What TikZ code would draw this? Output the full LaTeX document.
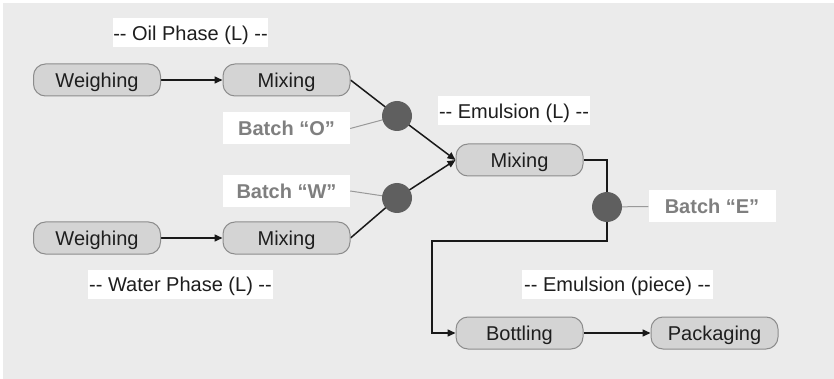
\documentclass[tikz,border=0pt]{standalone}
\usepackage{fontspec}
\setmainfont{Liberation Sans}
\usetikzlibrary{arrows.meta}
\definecolor{bgc}{HTML}{EBEBEB}
\definecolor{boxc}{HTML}{D4D4D4}
\definecolor{boxd}{HTML}{8C8C8C}
\definecolor{dotc}{HTML}{5F5F5F}
\definecolor{batc}{HTML}{7F7F7F}
\definecolor{txtc}{HTML}{1E1E1E}
\pgfdeclarelayer{bg}
\pgfdeclarelayer{lines}
\pgfsetlayers{bg,lines,main}
\tikzset{
  stepbox/.style={draw=boxd, fill=boxc, line width=1pt, rounded corners=12pt,
    minimum width=127pt, minimum height=32pt, inner sep=0pt,
    text height=14.5pt, text depth=0pt,
    font=\fontsize{20}{22}\selectfont, text=txtc},
  tagbox/.style={fill=white, minimum height=29pt, inner sep=0pt,
    text height=14.5pt, text depth=0pt,
    font=\fontsize{20}{22}\selectfont, text=txtc},
  batchbox/.style={fill=white, minimum width=127pt, minimum height=32pt, inner sep=0pt,
    text height=14.5pt, text depth=0pt,
    font=\bfseries\fontsize{20}{22}\selectfont, text=batc},
  dot/.style={circle, fill=dotc, minimum size=30pt, inner sep=0pt},
  flow/.style={line width=1.5pt, draw=black!90},
  arrow/.style={flow, -{Triangle[length=8pt,width=7pt]}},
  thin/.style={line width=1pt, draw=batc!80},
}
\begin{document}
\begin{tikzpicture}[x=1pt,y=-1pt]
\begin{pgfonlayer}{bg}
\fill[white] (0,0) rectangle (834,379);
\fill[bgc] (3,3) rectangle (834,379);
\end{pgfonlayer}
\useasboundingbox (0,0) rectangle (834,379);

\node[tagbox, minimum width=155pt] (toil) at (190.5,33) {-{}- Oil Phase (L) -{}-};
\node[stepbox] (w1) at (97,80) {Weighing};
\node[stepbox] (m1) at (286.5,80) {Mixing};
\node[batchbox] (bO) at (286.5,128.5) {Batch “O”};
\node[dot] (cO) at (397,116) {};

\node[batchbox] (bW) at (286.5,191) {Batch “W”};
\node[dot] (cW) at (397,198) {};
\node[stepbox] (w2) at (97,238) {Weighing};
\node[stepbox] (m2) at (286.5,238) {Mixing};
\node[tagbox, minimum width=185pt] (twat) at (180.5,284) {-{}- Water Phase (L) -{}-};

\node[tagbox, minimum width=152pt] (temu) at (514,111) {-{}- Emulsion (L) -{}-};
\node[stepbox] (me) at (519.5,160) {Mixing};
\node[dot] (cE) at (607,207) {};
\node[batchbox] (bE) at (712,206.5) {Batch “E”};

\node[tagbox, minimum width=191pt] (tpie) at (617.5,284) {-{}- Emulsion (piece) -{}-};
\node[stepbox] (bot) at (519.5,333) {Bottling};
\node[stepbox] (pak) at (714.5,333) {Packaging};

\coordinate (k1) at (607,241);
\coordinate (k2) at (432,241);

\begin{pgfonlayer}{lines}
\draw[arrow] (w1) -- (m1);
\draw[arrow] (w2) -- (m2);
\draw[arrow] (m1.east) -- (cO.center) -- (me.west);
\draw[arrow] (m2.east) -- (cW.center) -- (me.west);
\draw[thin] (bO.east) -- (cO.center);
\draw[thin] (bW.east) -- (cW.center);
\draw[thin] (cE.center) -- (bE.west);
\draw[arrow] (me.east) -| (cE.center) -- (k1) -- (k2) |- (bot.west);
\draw[arrow] (bot) -- (pak);
\end{pgfonlayer}
\end{tikzpicture}
\end{document}
